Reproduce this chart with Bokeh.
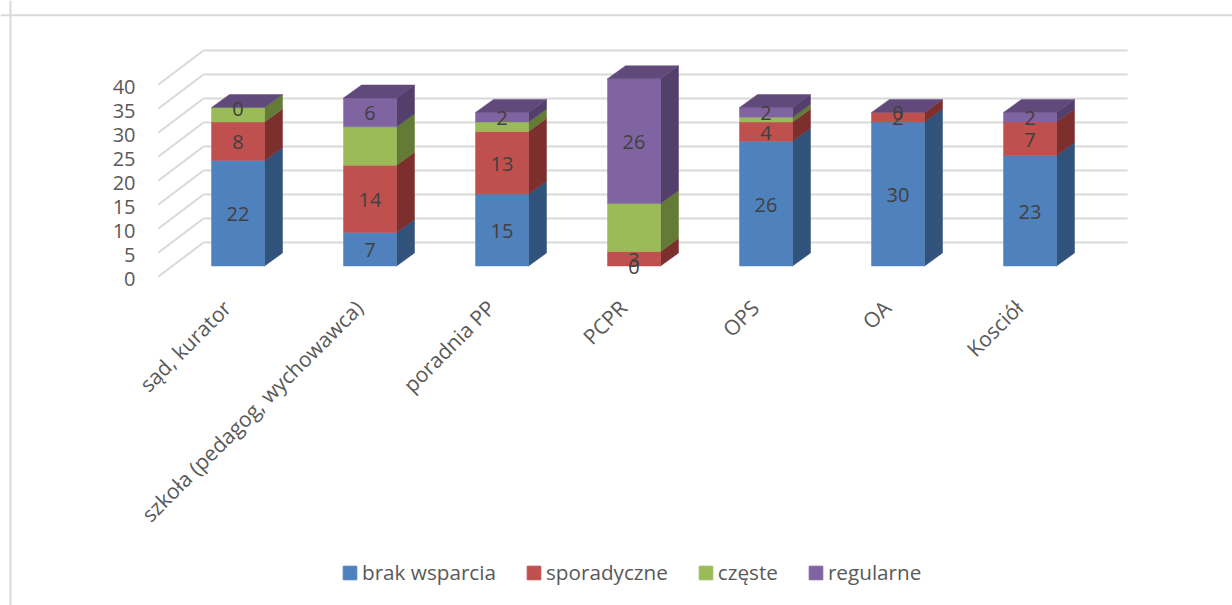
from math import pi
from bokeh.plotting import figure
from bokeh.embed import file_html
from bokeh.resources import INLINE
from bokeh.models import (LinearAxis, FixedTicker, Range1d, Legend, LegendItem, Span)
from bokeh.core.properties import value

categories = ["sąd, kurator", "szkoła (pedagog, wychowawca)", "poradnia PP",
              "PCPR", "OPS", "OA", "Kosciół"]
brak_wsparcia = [22, 7, 15, 0, 26, 30, 23]
sporadyczne = [8, 14, 13, 3, 4, 2, 7]
czeste = [3, 8, 2, 10, 1, 0, 0]
regularne = [0, 6, 2, 26, 2, 0, 2]
series_names = ["brak wsparcia", "sporadyczne", "częste", "regularne"]
series_values = [brak_wsparcia, sporadyczne, czeste, regularne]
front_colors = ["#4F81BD", "#C0504D", "#9BBB59", "#8064A2"]
side_colors = ["#31527A", "#7D2F2D", "#647A37", "#533F6B"]
top_color = "#604A7B"
labelled = [True, True, False, True]
y_ticks = [0, 5, 10, 15, 20, 25, 30, 35, 40]

FONT = "Open Sans"
W, H = 1232, 605
PX_X = 132.0   # px per category
PX_Y = 4.8     # px per value unit
X0 = 237.5     # px of first bar centre
Y0 = 265.5     # px of the bars' zero
BAR_W = 53 / PX_X
DX, DY = 18 / PX_X, 13 / PX_Y  # bar depth


def dx(px):
    return px / PX_X


def dy(px):
    return px / PX_Y


p = figure(width=W, height=H, output_backend="svg", toolbar_location=None,
           x_range=Range1d(-X0 / PX_X, (W - X0) / PX_X),
           y_range=Range1d((Y0 - H) / PX_Y, Y0 / PX_Y),
           min_border=0, min_border_left=0, min_border_right=0,
           min_border_top=0, min_border_bottom=0,
           x_axis_location=None, y_axis_location=None)
p.grid.visible = False
p.outline_line_color = None
p.background_fill_color = "white"
p.border_fill_color = "white"

# frame of the chart: only its top and left edges fall inside the picture
for loc, dim in ((10, "height"), (H - 14.7, "width")):
    p.add_layout(Span(location=loc, location_units="screen", dimension=dim,
                      line_color="#D9D9D9", line_width=2, level="underlay"))

# walls: back gridlines and floor/side diagonals
left_back = dx(203 - X0)
right_back = dx(1127 - X0)
left_front = dx(158 - X0)
back_shift = dy(23.5)
front_shift = -dy(10.5)
grid_color = "#D9D9D9"
for t in y_ticks:
    p.segment(left_back, t + back_shift, right_back, t + back_shift,
              line_color=grid_color, line_width=2)
    p.segment(left_front, t + front_shift, left_back, t + back_shift,
              line_color=grid_color, line_width=2)

# bars
legend_items = []
for i in range(len(categories)):
    base = 0
    for s, vals in enumerate(series_values):
        v = vals[i]
        l, r = i - BAR_W / 2, i + BAR_W / 2
        if v > 0:
            p.patch([r, r + DX, r + DX, r],
                    [base, base + DY, base + v + DY, base + v],
                    fill_color=side_colors[s], line_color=side_colors[s], line_width=0.5)
            p.quad(left=l, right=r, bottom=base, top=base + v,
                   fill_color=front_colors[s], line_color=front_colors[s], line_width=0.5)
        base += v
    p.patch([l, l + DX, r + DX, r], [base, base + DY, base + DY, base],
            fill_color=top_color, line_color=top_color, line_width=0.5)

# data labels
for i in range(len(categories)):
    base = 0
    for s, vals in enumerate(series_values):
        v = vals[i]
        if labelled[s]:
            p.text([i], [base + v / 2], text=[str(v)], text_font=value(FONT),
                   text_font_size="20px", text_color="#404040", text_align="center",
                   text_baseline="middle", y_offset=1)
        base += v

# legend, drawn from the series colours
for s, name in enumerate(series_names):
    g = p.quad(left=[-100], right=[-99], bottom=[-500], top=[-499],
               fill_color=front_colors[s], line_color=front_colors[s])
    legend_items.append(LegendItem(label=name, renderers=[g]))
legend = Legend(items=legend_items, orientation="horizontal", location=(341, 19),
                border_line_color=None, background_fill_alpha=0, padding=0, margin=0,
                spacing=29, glyph_width=17, glyph_height=17, label_standoff=4,
                label_text_font=FONT, label_text_font_size="20.7px",
                label_text_color="#595959", label_height=20)
p.add_layout(legend)

# y axis, on the front edge of the side wall
p.extra_y_ranges["front"] = Range1d((Y0 + 12.5 - H) / PX_Y, (Y0 + 12.5) / PX_Y)
yaxis = LinearAxis(y_range_name="front", fixed_location=dx(139 - X0),
                   ticker=FixedTicker(ticks=y_ticks), axis_line_color=None,
                   major_tick_line_color=None, minor_tick_line_color=None,
                   major_tick_in=0, major_tick_out=0, major_label_standoff=4,
                   major_label_text_font=FONT, major_label_text_font_size="20px",
                   major_label_text_color="#595959")
p.add_layout(yaxis, "left")

# category axis with slanted labels (shifted range: labels end left of the bar centres)
p.extra_x_ranges["labels"] = Range1d((-X0 + 11) / PX_X, (W - X0 + 11) / PX_X)
xaxis = LinearAxis(x_range_name="labels", fixed_location=dy(-34),
                   ticker=FixedTicker(ticks=list(range(len(categories)))),
                   major_label_overrides={i: c for i, c in enumerate(categories)},
                   major_label_orientation=pi / 4, axis_line_color=None,
                   major_tick_line_color=None, minor_tick_line_color=None,
                   major_tick_in=0, major_tick_out=0, major_label_standoff=4,
                   major_label_text_font=FONT, major_label_text_font_size="21px",
                   major_label_text_color="#595959")
p.add_layout(xaxis, "below")

open("out.html", "w").write(file_html(p, INLINE))
